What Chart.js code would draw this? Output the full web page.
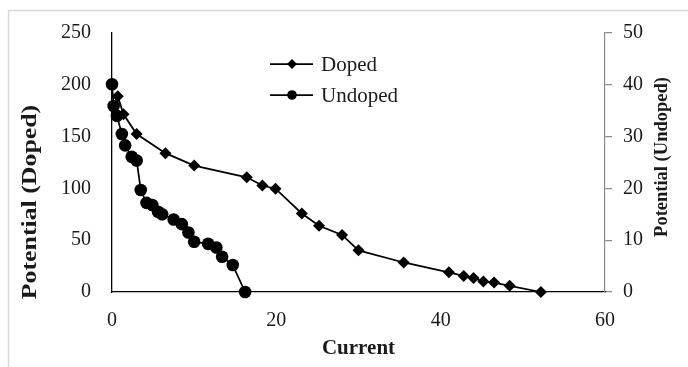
<!DOCTYPE html>
<html>
<head>
<meta charset="utf-8">
<script src="https://cdn.jsdelivr.net/npm/chart.js@4.4.0/dist/chart.umd.min.js"></script>
<style>
  html, body { margin: 0; padding: 0; background: #fff; }
  #wrap { width: 688px; height: 367px; position: relative; }
</style>
</head>
<body>
<div id="wrap"><canvas id="c" width="688" height="367"></canvas></div>
<script>
// ---- data ----
const currentDoped   = [0.7, 1.4, 3.0, 6.5, 10.0, 16.4, 18.3, 19.9, 23.1, 25.2, 28.0, 30.0, 35.5, 41.0, 42.8, 44.0, 45.2, 46.5, 48.4, 52.2];
const potentialDoped = [189, 171.5, 152.5, 134, 122, 110.7, 102.8, 99.7, 75.8, 63.9, 55.1, 40.2, 28.5, 19.0, 15.5, 13.6, 10.1, 9.1, 6.0, 0];

const currentUndoped   = [0, 0.2, 0.6, 1.2, 1.6, 2.4, 3.0, 3.5, 4.2, 4.9, 5.6, 6.1, 7.5, 8.5, 9.3, 10.0, 11.7, 12.7, 13.4, 14.7, 16.2];
const potentialUndoped = [40.1, 35.9, 34.0, 30.5, 28.3, 26.1, 25.4, 19.7, 17.2, 16.8, 15.5, 15.0, 14.0, 13.1, 11.5, 9.7, 9.3, 8.6, 6.8, 5.2, 0];

const seriesNames = ['Doped', 'Undoped'];
const xTitle = 'Current';
const yTitleLeft = 'Potential (Doped)';
const yTitleRight = 'Potential (Undoped)';

const FONT = "'Liberation Serif', 'Times New Roman', serif";
const TXT = '#1a1a1a';

function pts(xs, ys) { return xs.map((x, i) => ({ x: x, y: ys[i] })); }

// frame
const framePlugin = {
  id: 'frame',
  beforeDraw(chart) {
    const ctx = chart.ctx;
    ctx.save();
    ctx.fillStyle = '#fff';
    ctx.fillRect(0, 0, chart.width, chart.height);
    ctx.strokeStyle = '#d9d9d9';
    ctx.lineWidth = 1.5;
    ctx.beginPath();
    ctx.moveTo(8.5, chart.height + 2);
    ctx.lineTo(8.5, 10.5);
    ctx.lineTo(chart.width + 2, 10.5);
    ctx.stroke();
    ctx.restore();
  }
};

// vertical axis titles, both reading bottom-to-top
const yTitlePlugin = {
  id: 'yTitles',
  afterDraw(chart) {
    const ctx = chart.ctx;
    const items = [
      { text: yTitleLeft,  x: 31,  y: 202, size: 21, stretch: 1.23 },
      { text: yTitleRight, x: 662, y: 157, size: 18.5, stretch: 1.0 }
    ];
    ctx.save();
    ctx.fillStyle = TXT;
    ctx.textAlign = 'center';
    ctx.textBaseline = 'middle';
    items.forEach(it => {
      ctx.save();
      ctx.translate(it.x, it.y);
      ctx.rotate(-Math.PI / 2);
      ctx.scale(it.stretch, 1);
      ctx.font = 'bold ' + it.size + 'px ' + FONT;
      ctx.fillText(it.text, 0, 0);
      ctx.restore();
    });
    ctx.restore();
  }
};

const legendPlugin = {
  id: 'customLegend',
  afterDraw(chart) {
    const ctx = chart.ctx;
    const rows = [64, 95];
    ctx.save();
    chart.data.datasets.forEach((ds, i) => {
      const y = rows[i];
      ctx.strokeStyle = '#000';
      ctx.lineWidth = 1.75;
      ctx.beginPath();
      ctx.moveTo(270, y);
      ctx.lineTo(313, y);
      ctx.stroke();
      ctx.fillStyle = '#000';
      ctx.beginPath();
      if (ds.pointStyle === 'rectRot') {
        const r = 5;
        ctx.moveTo(292, y - r); ctx.lineTo(292 + r, y); ctx.lineTo(292, y + r); ctx.lineTo(292 - r, y);
        ctx.closePath();
      } else {
        ctx.arc(292, y, 4.8, 0, Math.PI * 2);
      }
      ctx.fill();
      ctx.fillStyle = TXT;
      ctx.font = '21px ' + FONT;
      ctx.textAlign = 'left';
      ctx.textBaseline = 'middle';
      ctx.fillText(ds.label, 321, y + 1);
    });
    ctx.restore();
  }
};

new Chart(document.getElementById('c'), {
  type: 'scatter',
  data: {
    datasets: [
      {
        label: seriesNames[0],
        data: pts(currentDoped, potentialDoped),
        yAxisID: 'y',
        showLine: true,
        borderColor: '#000',
        backgroundColor: '#000',
        borderWidth: 1.75,
        pointStyle: 'rectRot',
        pointRadius: 6,
        pointBorderWidth: 0,
        pointBackgroundColor: '#000',
        clip: false,
        order: 1
      },
      {
        label: seriesNames[1],
        data: pts(currentUndoped, potentialUndoped),
        yAxisID: 'y2',
        showLine: true,
        borderColor: '#000',
        backgroundColor: '#000',
        borderWidth: 1.75,
        pointStyle: 'circle',
        pointRadius: 6.3,
        pointBorderWidth: 0,
        pointBackgroundColor: '#000',
        clip: false,
        order: 0
      }
    ]
  },
  options: {
    responsive: false,
    animation: false,
    devicePixelRatio: 1,
    layout: { padding: { top: 29, left: 0, right: 0, bottom: 0 } },
    plugins: {
      legend: { display: false },
      tooltip: { enabled: false }
    },
    scales: {
      x: {
        type: 'linear',
        position: 'bottom',
        min: 0, max: 60,
        grid: { display: false, drawTicks: false },
        border: { display: true, color: '#000', width: 1.3 },
        ticks: { stepSize: 20, color: TXT, font: { family: FONT, size: 20 }, padding: 17, maxRotation: 0 },
        title: { display: true, text: xTitle, color: TXT, font: { family: FONT, size: 21, weight: 'bold' }, padding: { top: 0, bottom: 6 } },
        afterFit(s) { s.height = 75; }
      },
      y: {
        type: 'linear',
        position: 'left',
        min: 0, max: 250,
        grid: { display: false, drawTicks: false },
        border: { display: true, color: '#000', width: 1.3 },
        ticks: { stepSize: 50, color: TXT, font: { family: FONT, size: 20 }, padding: 21 },
        title: { display: false },
        afterFit(s) { s.width = 112; }
      },
      y2: {
        type: 'linear',
        position: 'right',
        min: 0, max: 50,
        grid: { display: true, drawOnChartArea: false, drawTicks: true, tickLength: 7, color: '#8a8a8a', lineWidth: 1.2 },
        border: { display: true, color: '#8a8a8a', width: 1.2 },
        ticks: { stepSize: 10, color: TXT, font: { family: FONT, size: 20 }, padding: 11 },
        title: { display: false },
        afterFit(s) { s.width = 83; }
      }
    }
  },
  plugins: [framePlugin, yTitlePlugin, legendPlugin]
});
</script>
</body>
</html>
